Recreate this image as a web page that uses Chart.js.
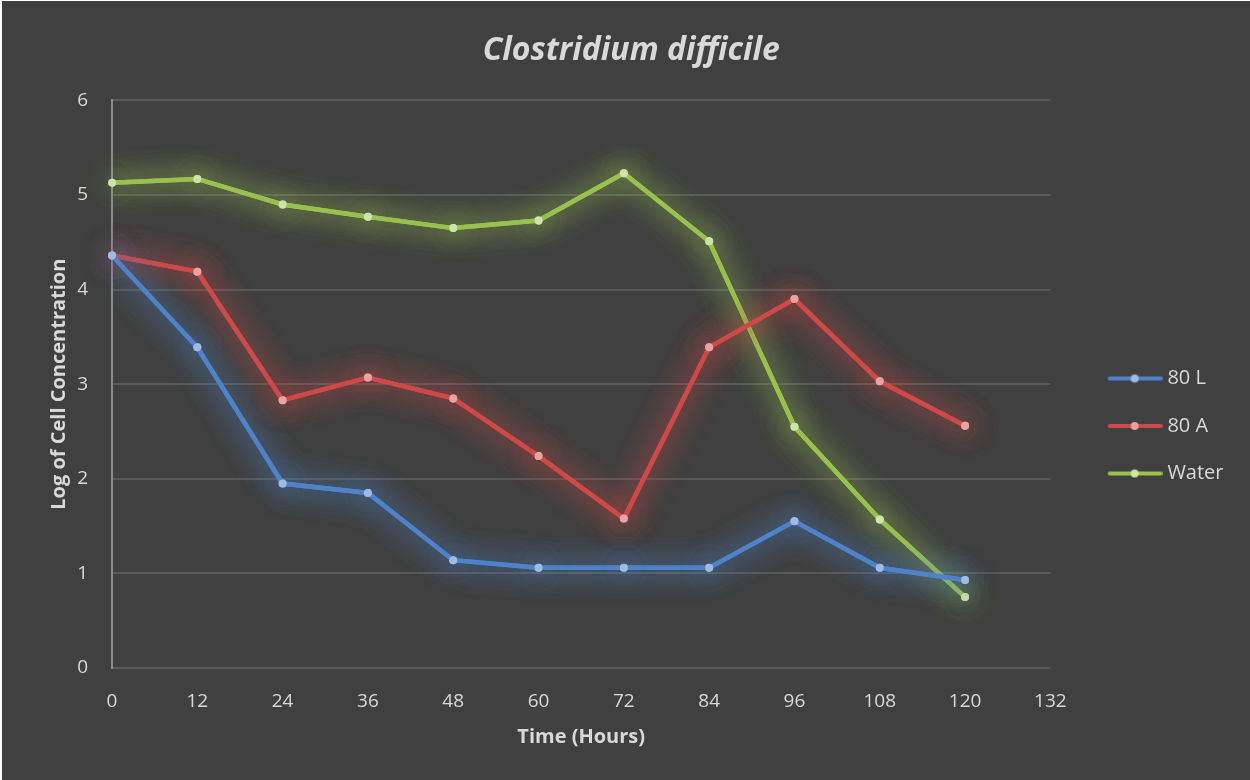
<!DOCTYPE html>
<html lang="en">
<head>
    <meta charset="UTF-8">
    <title>Clostridium difficile</title>
    <script src="https://cdn.jsdelivr.net/npm/chart.js"></script>
    <style>
        body { margin: 0; background: #ffffff; }
        #wrap { position: absolute; left: 2px; top: 1px; width: 1248px; height: 779px; background: #404040; }
    </style>
</head>
<body>
    <div id="wrap"><canvas id="chart" width="1248" height="779"></canvas></div>
    <script>
        const hours = [0, 12, 24, 36, 48, 60, 72, 84, 96, 108, 120];
        const series80L = [4.36, 3.39, 1.95, 1.85, 1.14, 1.06, 1.06, 1.06, 1.55, 1.06, 0.93];
        const series80A = [4.36, 4.19, 2.83, 3.07, 2.85, 2.24, 1.58, 3.39, 3.90, 3.03, 2.56];
        const seriesWater = [5.13, 5.17, 4.90, 4.77, 4.65, 4.73, 5.23, 4.51, 2.55, 1.57, 0.75];
        const yTicks = [0, 1, 2, 3, 4, 5, 6];
        const xTicks = [0, 12, 24, 36, 48, 60, 72, 84, 96, 108, 120, 132];

        const textColor = '#d9d9d9';
        const fontFamily = '"Open Sans", "Noto Sans", sans-serif';

        // legend picture: line with a dot, sitting in the right part of a wider box
        function legendIcon(line, dot) {
            const c = document.createElement('canvas');
            c.width = 90; c.height = 12;
            const g = c.getContext('2d');
            g.strokeStyle = line;
            g.lineWidth = 4;
            g.lineCap = 'round';
            g.beginPath(); g.moveTo(37, 6); g.lineTo(88, 6); g.stroke();
            g.fillStyle = dot;
            g.beginPath(); g.arc(62, 6, 4, 0, Math.PI * 2); g.fill();
            return c;
        }

        function makeSet(label, values, line, dot, glow) {
            return {
                label: label,
                data: values.map((v, i) => ({ x: hours[i], y: v })),
                borderColor: line,
                backgroundColor: dot,
                pointBackgroundColor: dot,
                pointBorderColor: dot,
                pointRadius: 4,
                pointBorderWidth: 0,
                borderWidth: 4.5,
                tension: 0,
                glow: glow,
                legendIcon: legendIcon(line, dot)
            };
        }

        // soft glow round each series, drawn twice so it is strong enough
        const glowPlugin = {
            id: 'glow',
            beforeDatasetDraw(chart, args) {
                const ds = chart.data.datasets[args.index];
                chart.ctx.save();
                chart.ctx.shadowColor = ds.glow;
                chart.ctx.shadowBlur = 28;
                args.meta.controller.draw();
            },
            afterDatasetDraw(chart) {
                chart.ctx.restore();
            }
        };

        const bgPlugin = {
            id: 'bg',
            beforeDraw(chart) {
                const ctx = chart.ctx;
                ctx.save();
                ctx.fillStyle = '#404040';
                ctx.fillRect(0, 0, chart.width, chart.height);
                ctx.restore();
            }
        };

        // nudge legend and title to where they sit in the original
        const nudge = {
            id: 'nudge',
            afterLayout(chart) {
                chart.legend.top += 41;
                chart.legend.bottom += 41;
                const t = chart.titleBlock;
                t.left -= 7; t.right -= 7;
                t.top += 3; t.bottom += 3;
            }
        };

        new Chart(document.getElementById('chart'), {
            type: 'line',
            data: {
                datasets: [
                    makeSet('80 L', series80L, '#4f83c9', '#9dbbe3', 'rgba(79,131,201,1)'),
                    makeSet('80 A', series80A, '#cd4a48', '#e8a3a2', 'rgba(205,74,72,1)'),
                    makeSet('Water', seriesWater, '#98c14f', '#cfe3ab', 'rgba(152,193,79,1)')
                ]
            },
            plugins: [bgPlugin, glowPlugin, nudge],
            options: {
                responsive: false,
                animation: false,
                layout: { padding: { left: 41, right: 16.5, top: 20, bottom: 31 } },
                plugins: {
                    title: {
                        display: true,
                        text: 'Clostridium difficile',
                        color: textColor,
                        font: { family: fontFamily, size: 32, style: 'italic', weight: 'bold' },
                        padding: { top: 8, bottom: 33 }
                    },
                    legend: {
                        position: 'right',
                        labels: {
                            color: textColor,
                            font: { family: fontFamily, size: 20 },
                            usePointStyle: true,
                            pointStyleWidth: 79.5,
                            padding: 27.5,
                            generateLabels(chart) {
                                return chart.data.datasets.map((ds, i) => ({
                                    text: ds.label,
                                    fontColor: textColor,
                                    pointStyle: ds.legendIcon,
                                    datasetIndex: i,
                                    lineWidth: 0,
                                    hidden: false
                                }));
                            }
                        }
                    },
                    tooltip: { enabled: false }
                },
                scales: {
                    x: {
                        type: 'linear',
                        min: 0,
                        max: 132,
                        afterBuildTicks(scale) {
                            scale.ticks = xTicks.map(v => ({ value: v }));
                        },
                        afterFit(scale) {
                            scale.height = 81;
                        },
                        grid: { display: false, drawTicks: false },
                        border: { display: false },
                        ticks: { color: textColor, font: { family: fontFamily, size: 19 }, padding: 22, maxRotation: 0 },
                        title: {
                            display: true,
                            text: 'Time (Hours)',
                            color: textColor,
                            font: { family: fontFamily, size: 20, weight: 'bold' },
                            padding: { top: 1, bottom: 0 }
                        }
                    },
                    y: {
                        min: 0,
                        max: 6,
                        afterBuildTicks(scale) {
                            scale.ticks = yTicks.map(v => ({ value: v }));
                        },
                        afterFit(scale) {
                            scale.width = 69;
                        },
                        grid: { color: '#595959', lineWidth: 2, drawTicks: false },
                        border: { display: true, color: '#8c8c8c', width: 2 },
                        ticks: { color: textColor, font: { family: fontFamily, size: 19 }, padding: 24 },
                        title: {
                            display: true,
                            text: 'Log of Cell Concentration',
                            color: textColor,
                            font: { family: fontFamily, size: 20, weight: 'bold' },
                            padding: { top: 4, bottom: 0 }
                        }
                    }
                }
            }
        });
    </script>
</body>
</html>
